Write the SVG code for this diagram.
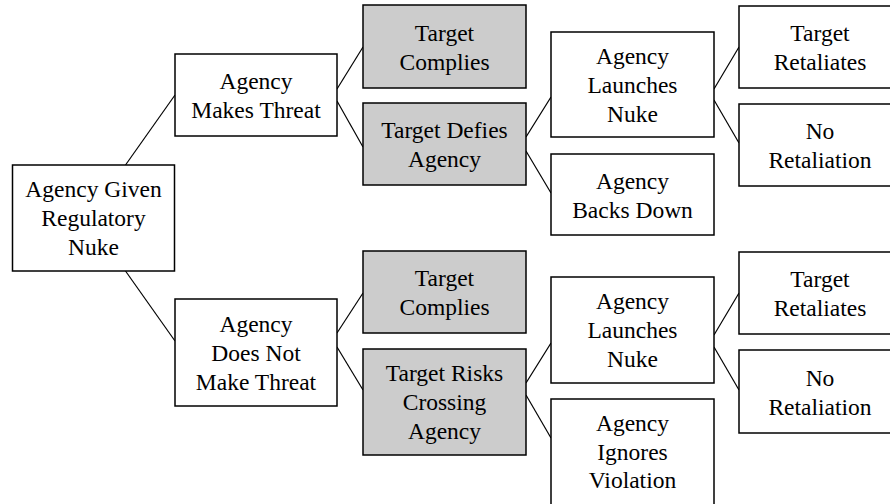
<svg xmlns="http://www.w3.org/2000/svg" width="890" height="504" viewBox="0 0 890 504">
<style>
.b{fill:#fff;stroke:#000;stroke-width:1.5}
.g{fill:#cccccc;stroke:#000;stroke-width:1.5}
.t{font-family:"Liberation Serif","Times New Roman",serif;font-size:23.5px;text-anchor:middle;fill:#000}
#connectors line{stroke:#000;stroke-width:1.2}
</style>
<rect width="890" height="504" fill="#fff"/>
<g id="connectors">
<line x1="125.5" y1="165" x2="175" y2="95"/>
<line x1="125.5" y1="271" x2="175" y2="341"/>
<line x1="337" y1="89" x2="363" y2="47"/>
<line x1="337" y1="101" x2="363" y2="147"/>
<line x1="526" y1="137" x2="551" y2="97"/>
<line x1="526" y1="151" x2="551" y2="193"/>
<line x1="714" y1="89" x2="739" y2="47"/>
<line x1="714" y1="100" x2="739" y2="143"/>
<line x1="337" y1="333" x2="363" y2="293"/>
<line x1="337" y1="347" x2="363" y2="390"/>
<line x1="526" y1="383" x2="551" y2="343"/>
<line x1="526" y1="395" x2="551" y2="438"/>
<line x1="714" y1="335" x2="739" y2="293"/>
<line x1="714" y1="347" x2="739" y2="390"/>
</g>
<g id="root"><rect class="b" x="12.5" y="165" width="162" height="106"/>
<text class="t" x="93.5"><tspan x="93.5" y="197">Agency Given</tspan><tspan x="93.5" y="226">Regulatory</tspan><tspan x="93.5" y="255">Nuke</tspan></text></g>
<g id="makes-threat"><rect class="b" x="175" y="54" width="162" height="82"/>
<text class="t"><tspan x="256" y="89">Agency</tspan><tspan x="256" y="118">Makes Threat</tspan></text></g>
<g id="complies-1"><rect class="g" x="363" y="5" width="163" height="83"/>
<text class="t"><tspan x="444.5" y="40.5">Target</tspan><tspan x="444.5" y="69.5">Complies</tspan></text></g>
<g id="defies"><rect class="g" x="363" y="103" width="163" height="82"/>
<text class="t"><tspan x="444.5" y="138">Target Defies</tspan><tspan x="444.5" y="167">Agency</tspan></text></g>
<g id="launches-1"><rect class="b" x="551" y="32" width="163" height="105"/>
<text class="t"><tspan x="632.5" y="63.5">Agency</tspan><tspan x="632.5" y="92.5">Launches</tspan><tspan x="632.5" y="121.5">Nuke</tspan></text></g>
<g id="backs-down"><rect class="b" x="551" y="154" width="163" height="81"/>
<text class="t"><tspan x="632.5" y="188.5">Agency</tspan><tspan x="632.5" y="217.5">Backs Down</tspan></text></g>
<g id="retaliates-1"><rect class="b" x="739" y="6" width="163" height="82"/>
<text class="t"><tspan x="820" y="41">Target</tspan><tspan x="820" y="70">Retaliates</tspan></text></g>
<g id="no-retaliation-1"><rect class="b" x="739" y="104" width="163" height="82"/>
<text class="t"><tspan x="820" y="139">No</tspan><tspan x="820" y="168">Retaliation</tspan></text></g>
<g id="no-threat"><rect class="b" x="175" y="299" width="162" height="107"/>
<text class="t"><tspan x="256" y="331.5">Agency</tspan><tspan x="256" y="360.5">Does Not</tspan><tspan x="256" y="389.5">Make Threat</tspan></text></g>
<g id="complies-2"><rect class="g" x="363" y="251" width="163" height="82"/>
<text class="t"><tspan x="444.5" y="286">Target</tspan><tspan x="444.5" y="315">Complies</tspan></text></g>
<g id="risks"><rect class="g" x="363" y="349" width="163" height="106"/>
<text class="t"><tspan x="444.5" y="381">Target Risks</tspan><tspan x="444.5" y="410">Crossing</tspan><tspan x="444.5" y="439">Agency</tspan></text></g>
<g id="launches-2"><rect class="b" x="551" y="277" width="163" height="106"/>
<text class="t"><tspan x="632.5" y="309">Agency</tspan><tspan x="632.5" y="338">Launches</tspan><tspan x="632.5" y="367">Nuke</tspan></text></g>
<g id="ignores"><rect class="b" x="551" y="399" width="163" height="110"/>
<text class="t"><tspan x="632.5" y="431">Agency</tspan><tspan x="632.5" y="460">Ignores</tspan><tspan x="632.5" y="488">Violation</tspan></text></g>
<g id="retaliates-2"><rect class="b" x="739" y="252" width="163" height="82"/>
<text class="t"><tspan x="820" y="287">Target</tspan><tspan x="820" y="316">Retaliates</tspan></text></g>
<g id="no-retaliation-2"><rect class="b" x="739" y="350" width="163" height="83"/>
<text class="t"><tspan x="820" y="385.5">No</tspan><tspan x="820" y="414.5">Retaliation</tspan></text></g>
</svg>
